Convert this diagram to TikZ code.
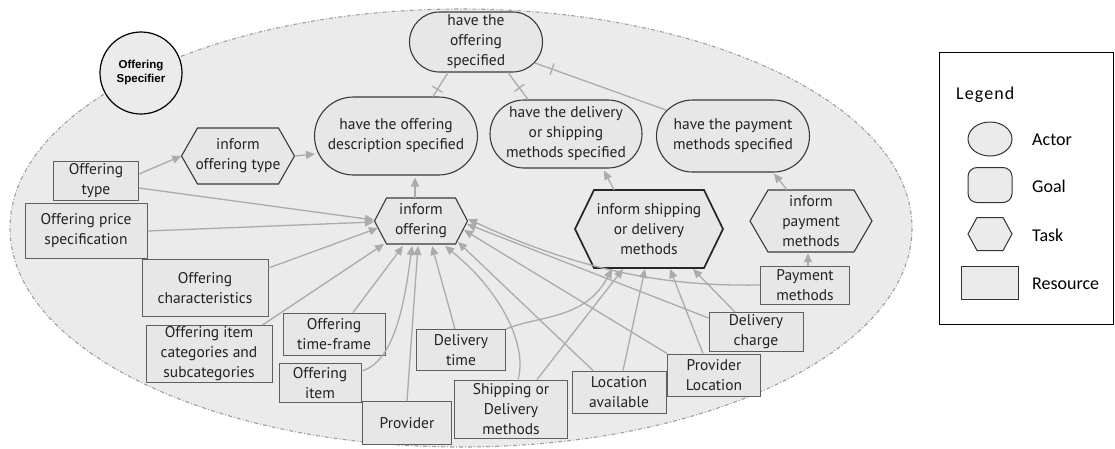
\documentclass[tikz,border=0pt]{standalone}
\usepackage{fontspec}
\setmainfont{PT Sans}
\newfontfamily\actorfont{Liberation Sans}
\newfontfamily\legfont{Carlito}
\usetikzlibrary{arrows.meta,shapes.misc,shapes.geometric,calc,decorations.markings}
\definecolor{bgfill}{HTML}{EBEBEB}
\definecolor{nodefill}{HTML}{E7E7E7}
\definecolor{linkgray}{HTML}{ABABAB}
\definecolor{bordercol}{HTML}{3A3A3A}
\definecolor{resborder}{HTML}{5E5E5E}
\definecolor{txtcol}{HTML}{222222}
\tikzset{
  txt/.style={inner sep=0pt, align=center, text=txtcol, font=\fontsize{15.5}{20}\selectfont},
  goal/.style={txt, rounded rectangle, draw=bordercol, fill=nodefill, line width=1.1pt},
  res/.style={txt, rectangle, draw=resborder, fill=nodefill, line width=1pt},
  taskshape/.style={draw=bordercol, fill=nodefill, line width=1.1pt, line join=miter},
  link/.style={draw=linkgray, line width=1.3pt, -{Triangle[length=9pt,width=8pt]}},
  decomp/.style={draw=linkgray, line width=1.3pt, postaction={decorate},
    decoration={markings, mark=at position #1 with {\draw[linkgray, line width=1.3pt] (0pt,-6pt) -- (0pt,6pt);}}},
}
\newcommand\mytask[8][]{%
  \filldraw[taskshape,#1] ({#3-#5/2},#4) -- ({#3-#5/2+#7},{#4-#6/2}) -- ({#3+#5/2-#7},{#4-#6/2})
    -- ({#3+#5/2},#4) -- ({#3+#5/2-#7},{#4+#6/2}) -- ({#3-#5/2+#7},{#4+#6/2}) -- cycle;
  \node[txt, minimum width=#5pt, minimum height=#6pt] (#2) at (#3,#4) {#8};}
\begin{document}
\begin{tikzpicture}[x=1pt,y=-1pt]
\useasboundingbox (0,0) rectangle (1115,448);
% actor boundary
\draw[draw=gray!75, fill=bgfill, line width=1.1pt, dash pattern=on 4pt off 2pt on 1pt off 2pt]
  (461,228) ellipse [x radius=451, y radius=219];
% actor
\node[circle, draw=black, fill=bgfill, line width=1.2pt, minimum size=82pt, inner sep=0pt, align=center,
  font=\actorfont\bfseries\fontsize{11.5}{14}\selectfont] (actor) at (141,73) {Offering\\Specifier};
% goals
\node[goal, minimum width=133pt, minimum height=60pt] (g0) at (476,42) {have the\\offering\\specified};
\node[goal, minimum width=163pt, minimum height=78pt] (g1) at (396,136) {have the offering\\description specified};
\node[goal, minimum width=152pt, minimum height=68pt] (g2) at (566,134) {have the delivery\\or shipping\\methods specified};
\node[goal, minimum width=153pt, minimum height=72pt] (g3) at (733,136) {have the payment\\methods specified};
% tasks
\mytask{t1}{238}{156}{113}{56}{16}{inform\\offering type}
\mytask{t2}{421}{221}{93}{46}{12}{inform\\offering}
\mytask[line width=1.7pt, draw=black!85]{t3}{649}{229}{148}{78}{19}{inform shipping\\or delivery\\methods}
\mytask{t4}{811}{221}{122}{62}{18}{inform\\payment\\methods}
% resources
\node[res, minimum width=85pt, minimum height=39pt] (r1) at (96,181) {Offering\\type};
\node[res, minimum width=122pt, minimum height=55pt] (r2) at (86,231) {Offering price\\specification};
\node[res, minimum width=126pt, minimum height=57pt] (r3) at (205,288) {Offering\\characteristics};
\node[res, minimum width=126pt, minimum height=57pt] (r4) at (209,354) {Offering item\\categories and\\subcategories};
\node[res, minimum width=102pt, minimum height=42pt] (r5) at (334,334) {Offering\\time-frame};
\node[res, minimum width=82pt, minimum height=39pt] (r6) at (320,383) {Offering\\item};
\node[res, minimum width=89pt, minimum height=43pt] (r7) at (407,423) {Provider};
\node[res, minimum width=89pt, minimum height=41pt] (r8) at (461,350) {Delivery\\time};
\node[res, minimum width=113pt, minimum height=58pt] (r9) at (511,409) {Shipping or\\Delivery\\methods};
\node[res, minimum width=94pt, minimum height=42pt] (r10) at (619,392) {Location\\available};
\node[res, minimum width=93pt, minimum height=42pt] (r11) at (714,375) {Provider\\Location};
\node[res, minimum width=94pt, minimum height=39pt] (r12) at (756,332) {Delivery\\charge};
\node[res, minimum width=89pt, minimum height=38pt] (r13) at (805,285) {Payment\\methods};
% decomposition links
\draw[decomp=0.7] ($(g0.south)+(-28,0)$) -- ($(g1.north)+(37,0)$);
\draw[decomp=0.57] ($(g0.south)+(32,0)$) -- ($(g2.north)+(-38,0)$);
\draw[decomp=0.13] ($(g0)+(59,21)$) -- ($(g3)+(-67,-26)$);
% contributions
\draw[link] (t1.east) -- ($(g1.west)+(1,18)$);
\draw[link] ($(t2.north)+(-6,0)$) -- ($(g1.south)+(19,2)$);
\draw[link] ($(t3.north)+(-35,0)$) -- ($(g2.south)+(38,2)$);
\draw[link] ($(t4.north)+(-24,0)$) -- ($(g3.south)+(41,1)$);
\draw[link] ($(r1.east)+(0,-7)$) -- (t1.west);
\draw[link] ($(r1.east)+(0,7)$) -- ($(t2)+(-47,-1)$);
\draw[link] (r2.east) -- ($(t2)+(-47,1)$);
\draw[link] ($(r3.north east)+(0,9)$) -- ($(t2)+(-43,7)$);
\draw[link] ($(r4.north east)+(-10,0)$) -- ($(t2)+(-37,23)$);
\draw[link] ($(r5.north)+(19,0)$) -- ($(t2)+(-18,25)$);
\draw[link] ($(r6.east)+(0,-12)$) .. controls (395,362) and (405,300) .. ($(t2)+(-9,25)$);
\draw[link] (r7.north) -- ($(t2)+(-3,25)$);
\draw[link] ($(r8.north)+(-6,0)$) -- ($(t2)+(11,25)$);
\draw[link] ($(r9.north)+(7,0)$) .. controls (528,345) and (500,290) .. ($(t2)+(24,25)$);
\draw[link] ($(r10.north)+(-26,0)$) -- ($(t2)+(37,21)$);
\draw[link] (r11.north west) -- ($(t2)+(43,9)$);
\draw[link] ($(r12.west)+(0,-14)$) -- ($(t2)+(46,3)$);
\draw[link] (r13.west) .. controls (690,286) and (600,280) .. ($(t2)+(47,-2)$);
\draw[link] (r8.north east) .. controls (540,315) and (585,320) .. ($(t3)+(-37,40)$);
\draw[link] ($(r9.north)+(26,0)$) -- ($(t3)+(-26,40)$);
\draw[link] ($(r10.north)+(4,0)$) -- ($(t3)+(-4,40)$);
\draw[link] ($(r11.north)+(-11,0)$) -- ($(t3)+(21,40)$);
\draw[link] ($(r12.north)+(-21,0)$) -- ($(t3)+(44,40)$);
\draw[link] ($(r13.north)+(3,0)$) -- ($(t4.south)+(-3,1)$);
% legend
\node[draw=black, fill=white, line width=1pt, minimum width=174pt, minimum height=272pt, inner sep=0pt] (legend) at (1026,188) {};
\tikzset{legtxt/.style={anchor=west, inner sep=0pt, font=\legfont\fontsize{18}{21}\selectfont}}
\node[legtxt] (legtitle) at (956,95) {\addfontfeature{LetterSpace=6}Legend};
\node[ellipse, draw=black!80, fill=bgfill, line width=1pt, minimum width=44pt, minimum height=34pt, inner sep=0pt] (lactor) at (990,139) {};
\node[rectangle, rounded corners=9pt, draw=black!80, fill=bgfill, line width=1pt, minimum width=44pt, minimum height=35pt, inner sep=0pt] (lgoal) at (990,185) {};
\mytask[draw=black!80, fill=bgfill, line width=1pt]{ltask}{990}{234}{44}{33}{9}{}
\node[rectangle, draw=black!80, fill=bgfill, line width=1pt, minimum width=57pt, minimum height=33pt, inner sep=0pt] (lres) at (990,283) {};
\node[legtxt] (lactort) at (1032,140) {Actor};
\node[legtxt] (lgoalt) at (1032,186) {Goal};
\node[legtxt] (ltaskt) at (1032,235) {Task};
\node[legtxt] (lrest) at (1032,284) {Resource};
\end{tikzpicture}
\end{document}
